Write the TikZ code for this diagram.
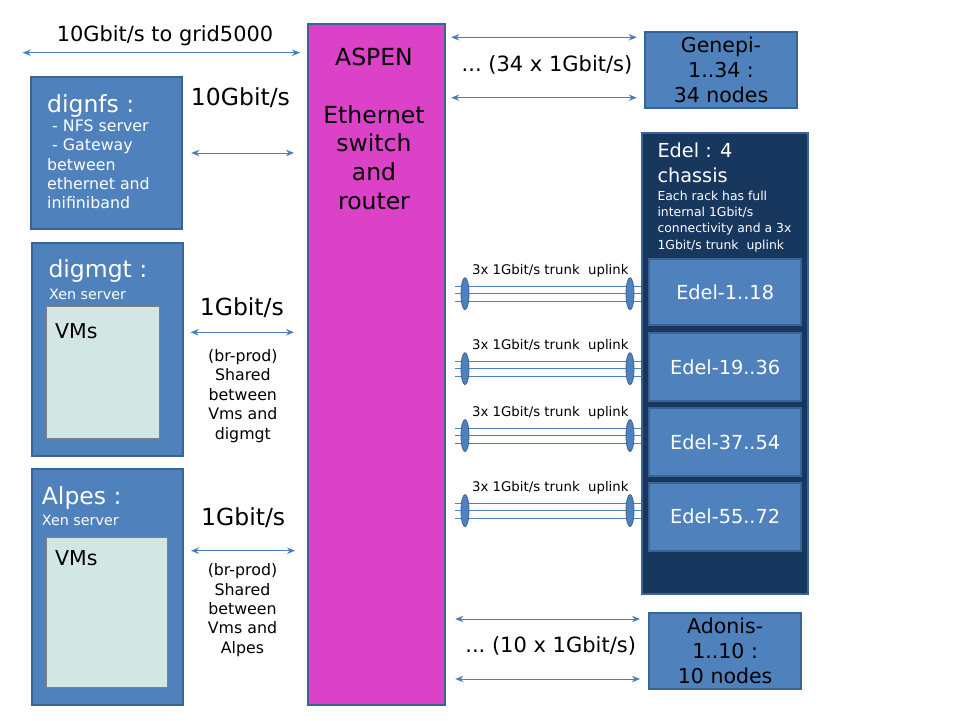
\documentclass[tikz,border=0pt]{standalone}
\usepackage{fontspec}
\setmainfont{DejaVu Sans}
\usepackage{xcolor}
\usepackage{tikz}
\usetikzlibrary{shapes,arrows.meta}
\definecolor{boxblue}{HTML}{4F81BD}
\definecolor{boxline}{HTML}{3B6496}
\definecolor{navy}{HTML}{17375E}
\definecolor{aspenpink}{HTML}{DC42C8}
\definecolor{vmgreen}{HTML}{D2E7E3}
\definecolor{linkblue}{HTML}{4A7EBB}
\newcommand{\fhuge}{\fontsize{23.5}{28.7}\selectfont}
\newcommand{\ftitle}{\fontsize{20.9}{25}\selectfont}
\newcommand{\flink}{\fontsize{21}{25}\selectfont}
\newcommand{\fnode}{\fontsize{20.5}{25.2}\selectfont}
\newcommand{\fedel}{\fontsize{19.3}{25}\selectfont}
\newcommand{\fbody}{\fontsize{15.8}{19.4}\selectfont}
\newcommand{\fxen}{\fontsize{14.3}{17}\selectfont}
\newcommand{\ftrunk}{\fontsize{13.3}{16}\selectfont}
\newcommand{\fnote}{\fontsize{12.4}{16.4}\selectfont}
\tikzset{box/.style={draw=boxline,fill=boxblue,line width=2pt,anchor=north west,inner sep=0pt}}
\tikzset{vmbox/.style={draw=gray,fill=vmgreen,line width=1pt,anchor=north west,inner sep=0pt}}
\tikzset{link/.style={<->,draw=linkblue,line width=1pt}}
\tikzset{wire/.style={draw=boxblue,line width=1.2pt}}
\tikzset{ring/.style={ellipse,draw=boxline,fill=boxblue,line width=0.8pt,minimum width=8pt,minimum height=32pt,inner sep=0pt}}
\tikzset{txt/.style={inner sep=0pt}}
\begin{document}
\begin{tikzpicture}[x=1pt,y=-1pt,>={Stealth[length=8pt,width=6.5pt]}]
    \fill[white] (0,0) rectangle (960,720);
    \useasboundingbox (0,0) rectangle (960,720);

    % servers on the left
    \node[box, minimum width=151pt, minimum height=152.6pt] (dignfs) at (30,75.7) {};
    \node[box, minimum width=151.5pt, minimum height=213.3pt] (digmgt) at (30.5,241.7) {};
    \node[vmbox, minimum width=113.3pt, minimum height=132.3pt] (vmsmgt) at (45.7,306) {};
    \node[box, minimum width=151pt, minimum height=235.7pt] (alpes) at (30.7,468.3) {};
    \node[vmbox, minimum width=121pt, minimum height=150.6pt] (vmsalpes) at (45.7,536.7) {};

    \node[txt, anchor=base west, font=\fhuge, text=white] (nfstitle) at (47,112) {dignfs :};
    \node[txt, anchor=base west, align=left, font=\fbody, text=white] (nfsbody) at (47,208.8) {\ - NFS server\\\ - Gateway\\between\\ethernet and\\inifiniband};
    \node[txt, anchor=base west, font=\fhuge, text=white] (mgttitle) at (48.3,277.7) {digmgt :};
    \node[txt, anchor=base west, font=\fxen, text=white] (mgtxen) at (49,299) {Xen server};
    \node[txt, anchor=base west, font=\fnode] (mgtvms) at (55,338.3) {VMs};
    \node[txt, anchor=base west, font=\fhuge, text=white] (alpestitle) at (41.7,504.3) {Alpes :};
    \node[txt, anchor=base west, font=\fxen, text=white] (alpesxen) at (41.7,525) {Xen server};
    \node[txt, anchor=base west, font=\fnode] (alpesvms) at (55,565) {VMs};

    % switch
    \node[box, fill=aspenpink, minimum width=136.7pt, minimum height=681.3pt] (aspen) at (307.3,22.7) {};
    \node[txt, anchor=base, align=center, font=\fhuge] (aspentxt) at (374,209.3) {ASPEN\\\mbox{}\\Ethernet\\switch\\and\\router};

    % clusters on the right
    \node[box, minimum width=152pt, minimum height=76.6pt, align=center, font=\fnode] (genepi) at (644,30.7) {Genepi-\\1..34 :\\34 nodes};
    \node[box, fill=navy, minimum width=166pt, minimum height=461.6pt] (edel) at (640.7,131.7) {};
    \node[txt, anchor=base west, align=left, font=\fedel, text=white] (edeltitle) at (657.3,182.3) {Edel : 4\\chassis};
    \node[txt, anchor=base west, align=left, font=\fnote, text=white] (edelnote) at (657.3,249.3) {Each rack has full\\internal 1Gbit/s\\connectivity and a 3x\\1Gbit/s trunk\ \ uplink};
    \node[box, minimum width=151.7pt, minimum height=66pt, font=\fedel, text=white] (edela) at (648.3,258.3) {Edel-1..18};
    \node[box, minimum width=151.7pt, minimum height=68pt, font=\fedel, text=white] (edelb) at (648.3,332) {Edel-19..36};
    \node[box, minimum width=151.7pt, minimum height=68pt, font=\fedel, text=white] (edelc) at (648.3,407) {Edel-37..54};
    \node[box, minimum width=151.7pt, minimum height=68pt, font=\fedel, text=white] (edeld) at (648.3,481.5) {Edel-55..72};
    \node[box, minimum width=151.7pt, minimum height=76.6pt, align=center, font=\fnode] (adonis) at (648.3,611.7) {Adonis-\\1..10 :\\10 nodes};

    % links to the switch
    \coordinate (grid) at (22.7,52.7);
    \draw [link, shorten >=7.3pt] (grid) to node[txt, anchor=base, yshift=11pt, font=\ftitle]{10Gbit/s to grid5000} (aspen.west |- grid);
    \draw [link, shorten <=8.3pt, shorten >=13.3pt] (dignfs.east) to node[txt, anchor=base, xshift=-4.7pt, yshift=48pt, font=\fhuge]{10Gbit/s} (aspen.west |- dignfs.east);
    \draw [link, shorten <=6.7pt, shorten >=13.3pt] (digmgt.east |- 0,332.3) to node[txt, anchor=base, xshift=-3.8pt, yshift=17.3pt, font=\fhuge]{1Gbit/s} node[txt, anchor=base, align=center, xshift=-2.8pt, yshift=-106.7pt, font=\fbody]{(br-prod)\\Shared\\between\\Vms and\\digmgt} (aspen.west |- 0,332.3);
    \draw [link, shorten <=7.3pt, shorten >=12.3pt] (alpes.east |- 0,550.7) to node[txt, anchor=base, xshift=-2.3pt, yshift=25pt, font=\fhuge]{1Gbit/s} node[txt, anchor=base, align=center, xshift=-3pt, yshift=-102.6pt, font=\fbody]{(br-prod)\\Shared\\between\\Vms and\\Alpes} (aspen.west |- 0,550.7);

    \draw [link, shorten <=5.3pt, shorten >=7.3pt] (aspen.east |- 0,37.3) to (genepi.west |- 0,37.3);
    \draw [link, shorten <=5.3pt, shorten >=7.3pt] (aspen.east |- 0,97.7) to node[txt, anchor=base, xshift=2pt, yshift=26pt, font=\flink]{...\ (34 x 1Gbit/s)} (genepi.west |- 0,97.7);
    \draw [link, shorten <=9.3pt, shorten >=8.3pt] (aspen.east |- 0,619) to (adonis.west |- 0,619);
    \draw [link, shorten <=9.3pt, shorten >=8.3pt] (aspen.east |- 0,679) to node[txt, anchor=base, xshift=3.5pt, yshift=26.3pt, font=\flink]{...\ (10 x 1Gbit/s)} (adonis.west |- 0,679);

    % trunk uplinks to the chassis
    \draw [wire, shorten <=9pt] (aspen.east |- 0,286.2) to (edel.west |- 0,286.2);
    \draw [wire, shorten <=9pt] (aspen.east |- 0,293.7) to node[txt, anchor=base, xshift=7pt, yshift=19.5pt, font=\ftrunk]{3x 1Gbit/s trunk\ \ uplink} (edel.west |- 0,293.7);
    \draw [wire, shorten <=9pt] (aspen.east |- 0,301.2) to (edel.west |- 0,301.2);
    \node[ring] (trunkaa) at (465,293.7) {};
    \node[ring] (trunkab) at (630,293.7) {};

    \draw [wire, shorten <=9pt] (aspen.east |- 0,361.2) to (edel.west |- 0,361.2);
    \draw [wire, shorten <=9pt] (aspen.east |- 0,368.7) to node[txt, anchor=base, xshift=7pt, yshift=19.5pt, font=\ftrunk]{3x 1Gbit/s trunk\ \ uplink} (edel.west |- 0,368.7);
    \draw [wire, shorten <=9pt] (aspen.east |- 0,376.2) to (edel.west |- 0,376.2);
    \node[ring] (trunkba) at (465,368.7) {};
    \node[ring] (trunkbb) at (630,368.7) {};

    \draw [wire, shorten <=9pt] (aspen.east |- 0,428.1) to (edel.west |- 0,428.1);
    \draw [wire, shorten <=9pt] (aspen.east |- 0,435.6) to node[txt, anchor=base, xshift=7pt, yshift=19.5pt, font=\ftrunk]{3x 1Gbit/s trunk\ \ uplink} (edel.west |- 0,435.6);
    \draw [wire, shorten <=9pt] (aspen.east |- 0,443.1) to (edel.west |- 0,443.1);
    \node[ring] (trunkca) at (465,435.6) {};
    \node[ring] (trunkcb) at (630,435.6) {};

    \draw [wire, shorten <=9pt] (aspen.east |- 0,503.1) to (edel.west |- 0,503.1);
    \draw [wire, shorten <=9pt] (aspen.east |- 0,510.6) to node[txt, anchor=base, xshift=7pt, yshift=19.5pt, font=\ftrunk]{3x 1Gbit/s trunk\ \ uplink} (edel.west |- 0,510.6);
    \draw [wire, shorten <=9pt] (aspen.east |- 0,518.1) to (edel.west |- 0,518.1);
    \node[ring] (trunkda) at (465,510.6) {};
    \node[ring] (trunkdb) at (630,510.6) {};
\end{tikzpicture}
\end{document}
